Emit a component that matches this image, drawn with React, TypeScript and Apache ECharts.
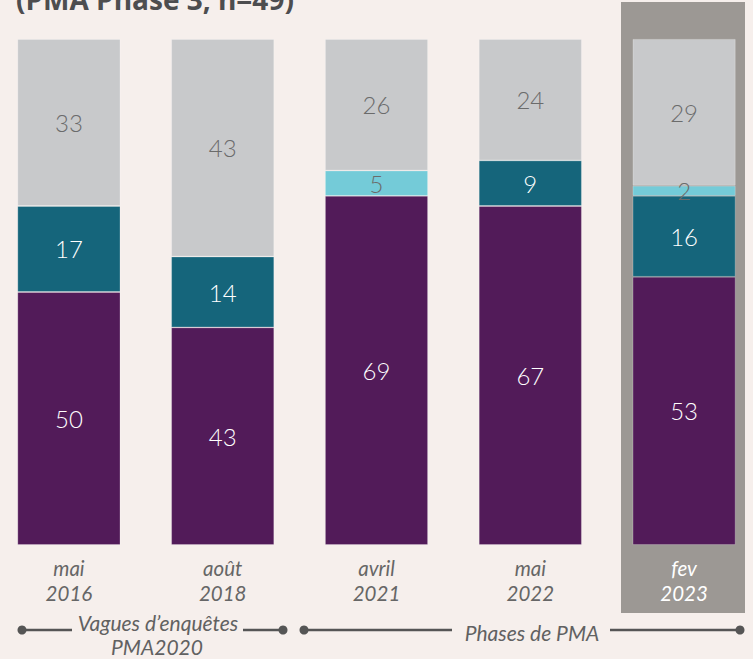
import React, { useEffect, useRef } from "react";
import * as echarts from "echarts";

const categories = ["mai\n2016", "août\n2018", "avril\n2021", "mai\n2022", "fev\n2023"];
const purpleValues = [50, 43, 69, 67, 53];
const tealValues: (number | null)[] = [17, 14, null, 9, 16];
const cyanValues: (number | null)[] = [null, null, 5, null, 2];
const grayValues = [33, 43, 26, 24, 29];
const highlightIndex = 4;

const BG = "#f6efec";
const FONT = "Lato, 'Noto Sans', sans-serif";
const OX = 8; // chart canvas is shifted 8px left of the page

export default function App() {
  const ref = useRef<HTMLDivElement>(null);
  useEffect(() => {
    document.body.style.margin = "0";
    if (!ref.current) return;
    const chart = echarts.init(ref.current, undefined, { renderer: "svg" });

    const seriesDef = (name: string, data: (number | null)[], color: string, labelColor: string) => ({
      name,
      type: "bar",
      stack: "total",
      data: data.map((v) => (v == null ? "-" : v)),
      barWidth: 103,
      z: 5,
      itemStyle: { color, borderColor: "rgba(255,255,255,0.3)", borderWidth: 0.8 },
      label: {
        show: true,
        position: "inside",
        formatter: "{c}",
        color: labelColor,
        fontFamily: FONT,
        fontWeight: 300,
        fontSize: 24,
      },
    });

    const lineColor = "#555555";
    const dot = (cx: number, cy: number) => ({
      type: "circle",
      shape: { cx: cx + OX, cy, r: 4.5 },
      style: { fill: lineColor },
      z: 10,
    });
    const seg = (x1: number, x2: number, y: number) => ({
      type: "line",
      shape: { x1: x1 + OX, y1: y, x2: x2 + OX, y2: y },
      style: { stroke: lineColor, lineWidth: 2.5 },
      z: 10,
    });
    const italicText = (text: string, x: number, y: number) => ({
      type: "text",
      x: x + OX,
      y,
      style: {
        text,
        fill: "#616161",
        font: `italic 21px ${FONT}`,
        align: "center",
        verticalAlign: "middle",
      },
      z: 10,
    });

    chart.setOption({
      animation: false,
      backgroundColor: BG,
      grid: { left: 0, right: 0, top: 39, bottom: 114, containLabel: false },
      xAxis: {
        type: "category",
        data: categories.map((c, i) =>
          i === highlightIndex ? { value: c, textStyle: { color: "#ffffff" } } : c
        ),
        axisLine: { show: false },
        axisTick: { show: false },
        axisLabel: {
          margin: 10,
          color: "#666666",
          fontFamily: FONT,
          fontStyle: "italic",
          fontSize: 20.5,
          lineHeight: 25,
          interval: 0,
        },
      },
      yAxis: { type: "value", min: 0, max: 100, show: false, splitLine: { show: false } },
      series: [
        seriesDef("purple", purpleValues, "#521b59", "#ffffff"),
        seriesDef("teal", tealValues, "#15657b", "#ffffff"),
        seriesDef("cyan", cyanValues, "#74cbd8", "#6b6b6b"),
        seriesDef("gray", grayValues, "#c8c9cb", "#6b6b6b"),
      ],
      graphic: [
        {
          type: "rect",
          shape: { x: 621 + OX, y: 2, width: 124, height: 611 },
          style: { fill: "#9c9894" },
          z: -1,
        },
        {
          type: "text",
          x: 16 + OX,
          y: -1,
          style: {
            text: "(PMA Phase 3, n=49)",
            fill: "#4d4d4f",
            font: "bold 28px 'Open Sans', sans-serif",
            verticalAlign: "middle",
          },
          z: 10,
        },
        seg(22, 72, 630),
        seg(243, 283, 630),
        dot(22, 630),
        dot(283, 630),
        italicText("Vagues d’enquêtes", 158, 622),
        italicText("PMA2020", 157, 646),
        seg(304, 452, 630),
        seg(610, 740, 630),
        dot(304, 630),
        dot(740, 630),
        italicText("Phases de PMA", 532, 632),
      ],
    });
    return () => chart.dispose();
  }, []);
  return (
    <div style={{ position: "relative", width: 753, height: 659, overflow: "hidden", background: BG }}>
      <div ref={ref} style={{ position: "absolute", left: -OX, top: 0, width: 769.4, height: 659 }} />
    </div>
  );
}
